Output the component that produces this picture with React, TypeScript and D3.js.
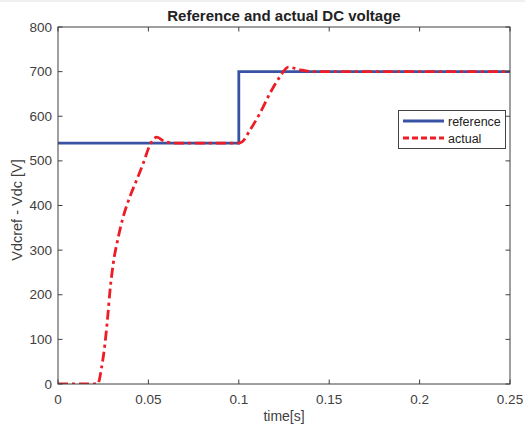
import React from "react";
import * as d3 from "d3";

const refTime = [0, 0.1, 0.1, 0.25];
const refValue = [540, 540, 700, 700];

const actTime = [0, 0.0219, 0.0242, 0.026, 0.0275, 0.0288, 0.0306, 0.0334, 0.0361, 0.0398, 0.0435, 0.0472, 0.0509, 0.0546, 0.0592, 0.064, 0.1, 0.1016, 0.1062, 0.1117, 0.1173, 0.1228, 0.1274, 0.1338, 0.141, 0.25];
const actValue = [0, 0, 39, 91, 151, 211, 271, 330, 375, 420, 457, 495, 536, 553, 543, 540, 540, 542, 569, 607, 652, 689, 710, 704, 700, 700];

const xTicks = [0, 0.05, 0.1, 0.15, 0.2, 0.25];
const xTickLabels = ["0", "0.05", "0.1", "0.15", "0.2", "0.25"];
const yTicks = [0, 100, 200, 300, 400, 500, 600, 700, 800];
const seriesNames = ["reference", "actual"];

export default function App() {
  const W = 525, H = 427;
  const L = 58, R = 510, T = 27, B = 384;
  const x = d3.scaleLinear().domain([0, 0.25]).range([L, R]);
  const y = d3.scaleLinear().domain([0, 800]).range([B, T]);
  const refLine = d3.line<number>().x((_, i) => x(refTime[i])).y((d) => y(d));
  const actLine = d3.line<number>().x((_, i) => x(actTime[i])).y((d) => y(d)).curve(d3.curveMonotoneX);
  const axisColor = "#404040";
  const font = "'Liberation Sans', Arial, sans-serif";
  const blue = "#3953a4";
  const red = "#ee1c25";
  const tl = 4.5;
  return (
    <svg width={W} height={H} style={{ position: "absolute", left: 0, top: 0, background: "#fff" }} fontFamily={font}>
      <rect x={0} y={0} width={W} height={H} fill="#fff" />
      <rect x={0} y={0} width={W} height={2} fill="#f0f0f0" />
      <defs>
        <clipPath id="clip">
          <rect x={L} y={T} width={R - L} height={B - T} />
        </clipPath>
      </defs>
      <g clipPath="url(#clip)">
        <path d={refLine(refValue) || ""} fill="none" stroke={blue} strokeWidth={2.8} />
        <path d={actLine(actValue) || ""} fill="none" stroke={red} strokeWidth={2.8} strokeDasharray="10,4,3,4" />
      </g>
      <rect x={L} y={T} width={R - L} height={B - T} fill="none" stroke={axisColor} strokeWidth={1} />
      {xTicks.map((t, i) => (
        <g key={"x" + i}>
          <line x1={x(t)} x2={x(t)} y1={B} y2={B - tl} stroke={axisColor} />
          <line x1={x(t)} x2={x(t)} y1={T} y2={T + tl} stroke={axisColor} />
          <text x={x(t)} y={B + 20} textAnchor="middle" fontSize={13.5} fill={axisColor}>{xTickLabels[i]}</text>
        </g>
      ))}
      {yTicks.map((t, i) => (
        <g key={"y" + i}>
          <line x1={L} x2={L + tl} y1={y(t)} y2={y(t)} stroke={axisColor} />
          <line x1={R} x2={R - tl} y1={y(t)} y2={y(t)} stroke={axisColor} />
          <text x={L - 6} y={y(t) + 4.5} textAnchor="end" fontSize={13.5} fill={axisColor}>{t}</text>
        </g>
      ))}
      <text x={284} y={21} textAnchor="middle" fontSize={15} fontWeight="bold" fill="#222">Reference and actual DC voltage</text>
      <text x={284} y={421} textAnchor="middle" fontSize={14} fill={axisColor}>time[s]</text>
      <text transform={`translate(22,210) rotate(-90)`} textAnchor="middle" fontSize={14.5} fill={axisColor}>Vdcref - Vdc [V]</text>
      <g>
        <rect x={398.5} y={110.5} width={107} height={38} fill="#fff" stroke="#444" strokeWidth={1} />
        <line x1={403} x2={444} y1={121} y2={121} stroke={blue} strokeWidth={2.8} />
        <text x={448} y={125.5} fontSize={12.5} fill="#222">{seriesNames[0]}</text>
        <line x1={403} x2={444} y1={138} y2={138} stroke={red} strokeWidth={2.8} strokeDasharray="6,3" />
        <text x={448} y={142.5} fontSize={12.5} fill="#222">{seriesNames[1]}</text>
      </g>
    </svg>
  );
}
